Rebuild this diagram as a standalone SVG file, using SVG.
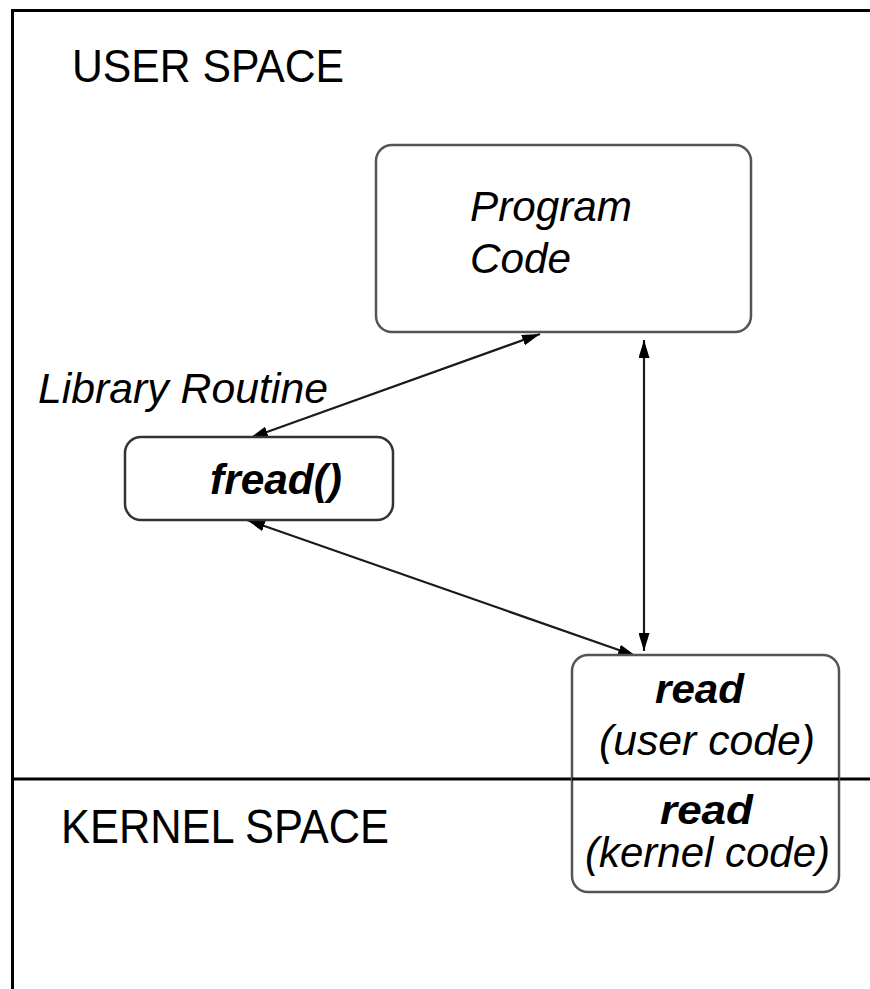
<svg xmlns="http://www.w3.org/2000/svg" width="870" height="989" viewBox="0 0 870 989">
<defs>
<marker id="ah" viewBox="0 0 18 11" refX="18" refY="5.5" markerWidth="18" markerHeight="11" markerUnits="userSpaceOnUse" orient="auto-start-reverse">
<path d="M0,0 L18,5.5 L0,11 Z" fill="#000"/>
</marker>
</defs>
<style>
.frame{fill:none;stroke:#000;stroke-width:3}
.box{fill:#fff;stroke:#555;stroke-width:2.5}
.lbl{font-family:"Liberation Sans",Arial,sans-serif;fill:#000}
.it{font-style:italic}
.bi{font-style:italic;font-weight:bold}
.conn{stroke:#1a1a1a;stroke-width:2.2;fill:none;marker-start:url(#ah);marker-end:url(#ah)}
</style>
<rect width="870" height="989" fill="#fff"/>
<g id="frame">
<path class="frame" d="M12.5,989 L12.5,10.5 L870,10.5"/>
<line class="frame" x1="12" y1="779" x2="870" y2="779"/>
</g>
<g id="user-space">
<text class="lbl" x="72" y="82" font-size="47" textLength="272" lengthAdjust="spacingAndGlyphs">USER SPACE</text>
</g>
<g id="kernel-space">
<text class="lbl" x="61" y="843" font-size="48" textLength="328" lengthAdjust="spacingAndGlyphs">KERNEL SPACE</text>
</g>
<g id="connectors">
<line class="conn" x1="540" y1="334" x2="250" y2="438"/>
<line class="conn" x1="247" y1="520" x2="636" y2="656"/>
<line class="conn" x1="644" y1="340" x2="644" y2="651"/>
</g>
<g id="program-code">
<rect class="box" x="376" y="145" width="375" height="187" rx="16" ry="16"/>
<text class="lbl it" x="470" y="221" font-size="42" textLength="162" lengthAdjust="spacingAndGlyphs">Program</text>
<text class="lbl it" x="470" y="273" font-size="42" textLength="101" lengthAdjust="spacingAndGlyphs">Code</text>
</g>
<g id="library-routine">
<text class="lbl it" x="38" y="403" font-size="43" textLength="290" lengthAdjust="spacingAndGlyphs">Library Routine</text>
</g>
<g id="fread">
<rect class="box" x="125" y="437" width="268" height="83" rx="16" ry="16" style="stroke:#333"/>
<text class="lbl bi" x="210" y="494" font-size="43" textLength="132" lengthAdjust="spacingAndGlyphs">fread()</text>
</g>
<g id="read">
<rect class="box" x="572" y="655" width="267" height="237" rx="16" ry="16"/>
<line class="frame" x1="572" y1="779" x2="839" y2="779"/>
<text class="lbl bi" x="655" y="703" font-size="41" textLength="89" lengthAdjust="spacingAndGlyphs">read</text>
<text class="lbl it" x="599" y="755" font-size="42" textLength="216" lengthAdjust="spacingAndGlyphs">(user code)</text>
<text class="lbl bi" x="660" y="824" font-size="41" textLength="93" lengthAdjust="spacingAndGlyphs">read</text>
<text class="lbl it" x="585" y="867" font-size="42" textLength="245" lengthAdjust="spacingAndGlyphs">(kernel code)</text>
</g>
</svg>
